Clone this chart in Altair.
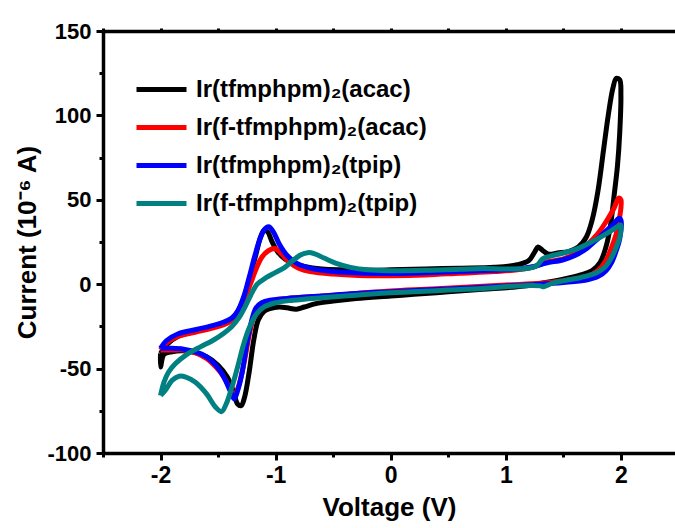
import altair as alt
import pandas as pd

# ---------------- data ----------------
names = ["Ir(tfmphpm)₂(acac)", "Ir(f-tfmphpm)₂(acac)", "Ir(tfmphpm)₂(tpip)", "Ir(f-tfmphpm)₂(tpip)"]
colors = ["#000000", "#ff0000", "#0000ff", "#008080"]

# Ir(tfmphpm)2(acac) - black loop
black_v = [-2.00, -1.95, -1.85, -1.70, -1.55, -1.45, -1.38, -1.32, -1.27, -1.22, -1.17, -1.13, -1.10, -1.07,
           -1.03, -0.98, -0.92, -0.85, -0.75, -0.60, -0.40, -0.20, 0.00, 0.30, 0.60, 0.90, 1.10, 1.20, 1.25,
           1.28, 1.32, 1.37, 1.45, 1.55, 1.63, 1.70, 1.75, 1.80, 1.85, 1.89, 1.93, 1.96, 1.99, 2.00,
           1.99, 1.97, 1.94, 1.91, 1.87, 1.82, 1.75, 1.65, 1.50, 1.30, 1.10, 0.80, 0.50, 0.20, 0.00, -0.30,
           -0.50, -0.65, -0.75, -0.82, -0.90, -0.97, -1.05, -1.10, -1.15, -1.19, -1.23, -1.27, -1.30, -1.33,
           -1.37, -1.42, -1.50, -1.60, -1.70, -1.80, -1.90, -1.97, -2.00, -2.00]
black_i = [-41, -36, -31, -28, -25.5, -23, -20.5, -15, -7, 5, 18, 28, 32, 31,
           25, 19, 15, 12.5, 10.5, 9, 8.5, 8.3, 8.5, 9, 9.5, 10, 11.5, 14, 19,
           22, 20, 17.8, 18.5, 19.5, 22, 28, 38, 55, 80, 100, 116, 122, 121, 112,
           90, 70, 52, 35, 22, 13, 8, 5.5, 3, 0.5, -1.5, -3, -4.5, -6, -7, -8.5,
           -10, -11.5, -13.5, -14.8, -14, -13.5, -14.5, -16, -21, -33, -52, -67, -72, -71,
           -63, -55, -48, -43, -40.5, -39.5, -40, -41.5, -49, -41]

# Ir(f-tfmphpm)2(acac) - red loop
red_v = [-2.00, -1.95, -1.85, -1.70, -1.55, -1.45, -1.38, -1.32, -1.27, -1.22, -1.17, -1.12, -1.06, -1.00,
         -0.95, -0.88, -0.80, -0.70, -0.50, -0.20, 0.00, 0.30, 0.60, 0.90, 1.10, 1.25, 1.35, 1.50, 1.60,
         1.70, 1.80, 1.88, 1.94, 1.98, 2.00,
         1.99, 1.96, 1.92, 1.87, 1.80, 1.70, 1.50, 1.30, 1.00, 0.60, 0.30, 0.00, -0.30, -0.60, -0.90,
         -1.05, -1.12, -1.17, -1.22, -1.27, -1.32, -1.36, -1.39, -1.45, -1.52, -1.60, -1.70, -1.80, -1.90,
         -2.00]
red_i = [-39, -35, -31, -28.5, -26, -24, -21.5, -17, -9, 0, 9, 16, 20, 21,
         18, 13, 9.5, 7.5, 6, 5, 5, 5.5, 6.5, 7.5, 8.5, 10.5, 13, 15, 18,
         23, 30, 38, 45, 51, 50,
         40, 30, 22, 14, 8, 4.5, 2, 0.5, -0.5, -2, -3, -4, -5.5, -7, -8.5,
         -10, -12, -16, -27, -45, -60, -66, -63, -55, -49, -44, -40.5, -39, -39,
         -39]

# Ir(tfmphpm)2(tpip) - blue loop
blue_v = [-2.00, -1.95, -1.85, -1.70, -1.55, -1.45, -1.38, -1.33, -1.28, -1.23, -1.18, -1.13, -1.09, -1.06,
          -1.02, -0.97, -0.90, -0.82, -0.70, -0.50, -0.20, 0.00, 0.30, 0.60, 0.90, 1.10, 1.25, 1.35, 1.50,
          1.60, 1.70, 1.80, 1.88, 1.94, 1.98, 2.00,
          1.99, 1.96, 1.92, 1.87, 1.80, 1.70, 1.50, 1.30, 1.00, 0.60, 0.30, 0.00, -0.30, -0.60, -0.90,
          -1.05, -1.12, -1.17, -1.21, -1.25, -1.29, -1.33, -1.36, -1.39, -1.45, -1.52, -1.60, -1.70, -1.80,
          -1.90, -2.00]
blue_i = [-38, -33.5, -29.5, -27, -24.5, -22.5, -20, -16, -8, 4, 17, 28, 33, 34,
          31, 24, 17, 12.5, 9.5, 7.5, 6.5, 6.3, 6.8, 7.5, 8.3, 9, 10.5, 12.5, 14.5,
          17, 21, 27, 32, 36, 39, 38,
          27, 20, 13, 8, 4.5, 2.5, 1, 0, -1, -2.5, -3.5, -4.5, -5.5, -7, -8.5,
          -9.5, -11, -14, -22, -35, -52, -63, -68, -64, -55, -48, -43, -40, -38.5,
          -38, -38]

# Ir(f-tfmphpm)2(tpip) - teal loop
teal_v = [-2.00, -1.97, -1.93, -1.87, -1.78, -1.65, -1.55, -1.45, -1.38, -1.32, -1.27, -1.22, -1.16, -1.08,
          -1.00, -0.92, -0.85, -0.78, -0.72, -0.66, -0.58, -0.48, -0.35, -0.20, 0.00, 0.30, 0.60, 0.80,
          1.00, 1.20, 1.27, 1.32, 1.38, 1.50, 1.60, 1.70, 1.80, 1.90, 1.97, 2.00,
          1.99, 1.96, 1.92, 1.86, 1.78, 1.65, 1.50, 1.40, 1.33, 1.30, 1.10, 0.80, 0.50, 0.20, 0.00, -0.30,
          -0.60, -0.85, -1.00, -1.10, -1.17, -1.23, -1.28, -1.33, -1.38, -1.43, -1.47, -1.52, -1.60, -1.70,
          -1.78, -1.84, -1.90, -1.96, -2.00]
teal_i = [-66, -58, -52, -47, -42, -37, -33.5, -29, -25, -20, -14, -7, 0, 4,
          7, 10, 14, 17.5, 18.7, 18, 15.5, 12.5, 10, 8.5, 8, 8.2, 8.8, 9.3,
          9, 9.5, 11, 15, 16.5, 18.5, 20.5, 23.5, 27, 31, 34, 35,
          28, 22, 16, 10, 6.5, 4, 2, 0.5, -1.5, -1, -1, -2.5, -3.5, -4.5, -5, -6.5,
          -8, -9.5, -11, -13.5, -18, -26, -36, -49, -61, -71, -75.5, -73, -65, -58,
          -55, -54.5, -57, -63, -66]

x_ticks = [-2.5, -2, -1.5, -1, -0.5, 0, 0.5, 1, 1.5, 2]
y_ticks = [-100, -75, -50, -25, 0, 25, 50, 75, 100, 125, 150]

# ---------------- table ----------------
rows = []
for name, vs, cs in zip(names, [black_v, red_v, blue_v, teal_v], [black_i, red_i, blue_i, teal_i]):
    for k, (v, c) in enumerate(zip(vs, cs)):
        rows.append({"series": name, "idx": k, "V": v, "I": c})
df = pd.DataFrame(rows)

FONT = "Liberation Sans"
xscale = alt.Scale(domain=[-2.5, 2.47], nice=False, zero=False)
yscale = alt.Scale(domain=[-100, 150], nice=False, zero=False)

lines = alt.Chart(df).mark_line(strokeWidth=5, interpolate="catmull-rom").encode(
    x=alt.X("V:Q", scale=xscale, axis=alt.Axis(
        values=x_ticks, title="Voltage (V)",
        labelExpr="datum.value % 1 === 0 ? '' + datum.value : ''",
        tickSize=alt.ExprRef(expr="datum.value % 1 === 0 ? 7 : 4"),
        labelFontSize=23, titleFontSize=26,
        labelPadding=4, titlePadding=7, labelFlush=False, labelOverlap=False)),
    y=alt.Y("I:Q", scale=yscale, axis=alt.Axis(
        values=y_ticks, title="Current (10⁻⁶ A)",
        labelExpr="datum.value % 50 === 0 ? '' + datum.value : ''",
        tickSize=alt.ExprRef(expr="datum.value % 50 === 0 ? 7 : 4"),
        labelFontSize=22, titleFontSize=26,
        labelPadding=5, titlePadding=6, labelFlush=False, labelOverlap=False)),
    color=alt.Color("series:N", scale=alt.Scale(domain=names, range=colors), legend=alt.Legend(
        title=None, orient="none", legendX=46, legendY=46, padding=0,
        symbolType="M-2.5,0H2.5", symbolSize=400, symbolStrokeWidth=5,
        labelFont=FONT, labelFontSize=24, labelFontWeight="bold", labelColor="black",
        labelOffset=22, labelLimit=400, rowPadding=13)),
    order=alt.Order("idx:Q"),
)

top = alt.Chart(df).mark_point(opacity=0).encode(
    x=alt.X("V:Q", scale=xscale, axis=alt.Axis(
        orient="top", values=x_ticks, labels=False, title=None, tickSize=3)),
)

chart = alt.layer(lines, top).resolve_axis(x="independent").properties(
    width=572, height=422, autosize="none",
    padding={"left": 103, "top": 31, "right": 0, "bottom": 75},
).configure_view(stroke=None).configure_axis(
    grid=False, domainColor="black", domainWidth=3.5, tickColor="black", tickWidth=3,
    labelFont=FONT, labelFontWeight="bold", labelColor="black",
    titleFont=FONT, titleFontWeight="bold", titleColor="black",
)

chart.save("out.html", embed_options={"renderer": "svg", "actions": False})
